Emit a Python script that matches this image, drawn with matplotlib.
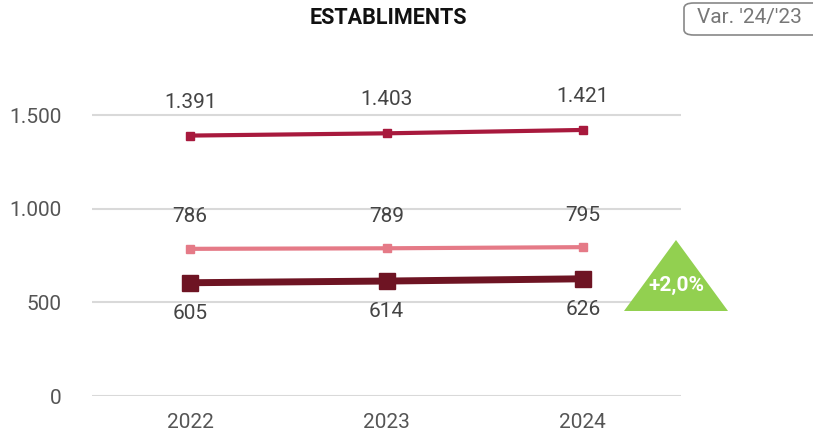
import matplotlib
matplotlib.use("Agg")
import matplotlib.pyplot as plt
from matplotlib.patches import Polygon, FancyBboxPatch

years = ["2022", "2023", "2024"]
series_top = [1391, 1403, 1421]
series_mid = [786, 789, 795]
series_low = [605, 614, 626]
yticks = [0, 500, 1000, 1500]
title = "ESTABLIMENTS"
var_label = "Var. '24/'23"
var_value = "+2,0%"

plt.rcParams['font.family'] = ['Roboto', 'DejaVu Sans']

W, H = 813, 436
fig = plt.figure(figsize=(W / 100, H / 100), dpi=100)
ax = fig.add_axes([92 / W, 40 / H, (681 - 92) / W, 337 / H])
ax.set_xlim(-0.5, 2.5)
ax.set_ylim(0, 1800)

def fmt(v):
    return f"{v:,}".replace(",", ".")

x = list(range(len(years)))
ax.plot(x, series_top, color="#A8193D", lw=3, marker="s", ms=6, zorder=3)
ax.plot(x, series_mid, color="#E57A87", lw=3, marker="s", ms=6, zorder=3)
ax.plot(x, series_low, color="#6E1423", lw=5, marker="s", ms=11, zorder=4)

for xi, v in zip(x, series_top):
    ax.annotate(fmt(v), (xi, v), xytext=(0, 24), textcoords="offset points",
                ha="center", va="center", fontsize=15, color="#444444")
for xi, v in zip(x, series_mid):
    ax.annotate(fmt(v), (xi, v), xytext=(0, 23), textcoords="offset points",
                ha="center", va="center", fontsize=15, color="#444444")
for xi, v in zip(x, series_low):
    ax.annotate(fmt(v), (xi, v), xytext=(0, -22), textcoords="offset points",
                ha="center", va="center", fontsize=15, color="#444444")

ax.set_yticks(yticks)
ax.set_yticklabels([fmt(v) for v in yticks])
ax.set_xticks(x)
ax.set_xticklabels(years)
ax.grid(axis="y", color="#D9D9D9", lw=1.5)
ax.set_axisbelow(True)
for s in ax.spines.values():
    s.set_visible(False)
ax.tick_params(axis="both", length=0, labelsize=15, colors="#555555")
ax.tick_params(axis="y", pad=22)
ax.tick_params(axis="x", pad=12)

fig.text(388 / W, 1 - 18 / H, title, ha="center", va="center",
         fontsize=15.5, fontweight="bold", color="#111111")

box = FancyBboxPatch((684 / W, 1 - 35 / H), 140 / W, 32 / H,
                     boxstyle="round,pad=0,rounding_size=0.012",
                     transform=fig.transFigure, fc="white", ec="#888888", lw=1.2)
fig.patches.append(box)
fig.text(749 / W, 1 - 18 / H, var_label, ha="center", va="center",
         fontsize=15, color="#777777")

tri = Polygon([(676 / W, 1 - 240 / H), (624 / W, 1 - 311 / H), (728 / W, 1 - 311 / H)],
              closed=True, transform=fig.transFigure, fc="#92D050", ec="none")
fig.patches.append(tri)
fig.text(676 / W, 1 - 285 / H, var_value, ha="center", va="center",
         fontsize=15, fontweight="bold", color="white")

fig.savefig("out.png", dpi=100)
